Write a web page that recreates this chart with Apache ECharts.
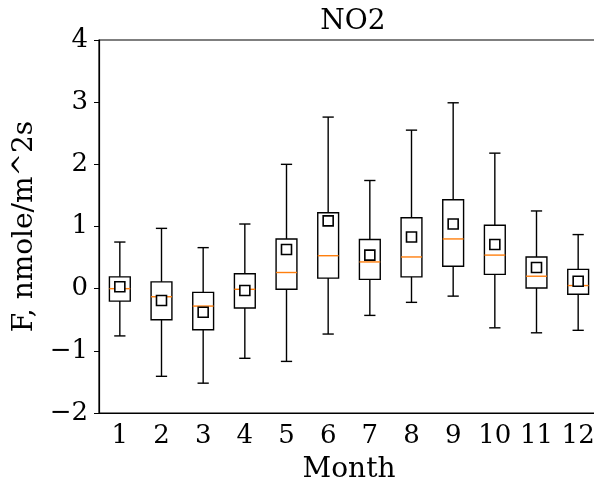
<!DOCTYPE html>
<html>
<head>
<meta charset="utf-8">
<script src="https://cdn.jsdelivr.net/npm/echarts@6/dist/echarts.min.js"></script>
<style>
html, body { margin: 0; padding: 0; background: #fff; }
#main { width: 594px; height: 483px; }
</style>
</head>
<body>
<div id="main"></div>
<script>
var months = ['1', '2', '3', '4', '5', '6', '7', '8', '9', '10', '11', '12'];
var whiskerLow = [-0.76, -1.41, -1.52, -1.12, -1.17, -0.73, -0.43, -0.22, -0.12, -0.63, -0.71, -0.67];
var q1 = [-0.20, -0.50, -0.66, -0.31, -0.01, 0.17, 0.15, 0.19, 0.36, 0.23, 0.01, -0.09];
var medians = [0.00, -0.13, -0.28, -0.01, 0.26, 0.53, 0.43, 0.51, 0.80, 0.54, 0.20, 0.05];
var q3 = [0.19, 0.11, -0.06, 0.24, 0.80, 1.22, 0.79, 1.14, 1.43, 1.02, 0.51, 0.31];
var whiskerHigh = [0.75, 0.97, 0.66, 1.04, 2.00, 2.76, 1.74, 2.55, 2.99, 2.18, 1.25, 0.87];
var means = [0.03, -0.19, -0.38, -0.03, 0.63, 1.09, 0.54, 0.83, 1.04, 0.71, 0.34, 0.12];

var font = 'DejaVu Serif';

var boxData = months.map(function (m, i) {
    return [i, whiskerLow[i], q1[i], medians[i], q3[i], whiskerHigh[i]];
});
var meanData = months.map(function (m, i) {
    return [i, means[i]];
});

function renderBox(params, api) {
    var x = api.value(0);
    var lo = api.coord([x, api.value(1)]);
    var b1 = api.coord([x, api.value(2)]);
    var md = api.coord([x, api.value(3)]);
    var b3 = api.coord([x, api.value(4)]);
    var hi = api.coord([x, api.value(5)]);
    var w = api.size([1, 0])[0];
    var half = w * 0.25;
    var cap = w * 0.135;
    var cx = lo[0];
    var line = { stroke: '#000', lineWidth: 1.4 };
    return {
        type: 'group',
        children: [
            { type: 'line', shape: { x1: cx, y1: lo[1], x2: cx, y2: b1[1] }, style: line },
            { type: 'line', shape: { x1: cx, y1: b3[1], x2: cx, y2: hi[1] }, style: line },
            { type: 'line', shape: { x1: cx - cap, y1: lo[1], x2: cx + cap, y2: lo[1] }, style: line },
            { type: 'line', shape: { x1: cx - cap, y1: hi[1], x2: cx + cap, y2: hi[1] }, style: line },
            { type: 'rect', shape: { x: cx - half, y: b3[1], width: half * 2, height: b1[1] - b3[1] },
              style: { fill: 'none', stroke: '#000', lineWidth: 1.4 } },
            { type: 'line', shape: { x1: cx - half, y1: md[1], x2: cx + half, y2: md[1] },
              style: { stroke: '#ff7f0e', lineWidth: 1.4 } }
        ]
    };
}

function minus(v) {
    return String(v).replace('-', '\u2212');
}

var chart = echarts.init(document.getElementById('main'));
chart.setOption({
    animation: false,
    title: {
        text: 'NO2',
        left: 348,
        textAlign: 'center',
        top: 3,
        textStyle: { fontFamily: font, fontSize: 28, fontWeight: 'normal', color: '#000' }
    },
    grid: {
        left: 99, width: 500, top: 40, bottom: 70,
        outerBoundsMode: 'none',
        containLabel: false,
        show: true, borderColor: '#000', borderWidth: 1.2
    },
    xAxis: {
        type: 'category',
        data: months,
        boundaryGap: true,
        name: 'Month',
        nameLocation: 'middle',
        nameGap: 43,
        nameTextStyle: { fontFamily: font, fontSize: 28, color: '#000' },
        axisLine: { onZero: false, lineStyle: { color: '#000', width: 1.2 } },
        axisTick: { alignWithLabel: true, interval: 0, length: 5, lineStyle: { color: '#000' } },
        axisLabel: { interval: 0, fontFamily: font, fontSize: 26, color: '#000', margin: 10 },
        splitLine: { show: false }
    },
    yAxis: {
        type: 'value',
        min: -2,
        max: 4,
        interval: 1,
        name: 'F, nmole/m^2s',
        nameLocation: 'middle',
        nameGap: 50,
        nameTextStyle: { fontFamily: font, fontSize: 28, color: '#000' },
        axisLine: { show: true, lineStyle: { color: '#000', width: 1.2 } },
        axisTick: { show: true, length: 5, lineStyle: { color: '#000' } },
        axisLabel: { fontFamily: font, fontSize: 26, color: '#000', margin: 11, formatter: minus },
        splitLine: { show: false }
    },
    series: [
        {
            type: 'custom',
            renderItem: renderBox,
            encode: { x: 0, y: [1, 2, 3, 4, 5] },
            data: boxData,
            z: 2
        },
        {
            type: 'scatter',
            data: meanData,
            symbol: 'rect',
            symbolSize: 10,
            itemStyle: { color: '#fff', borderColor: '#000', borderWidth: 1.6, opacity: 1 },
            z: 3
        }
    ]
});
</script>
</body>
</html>
